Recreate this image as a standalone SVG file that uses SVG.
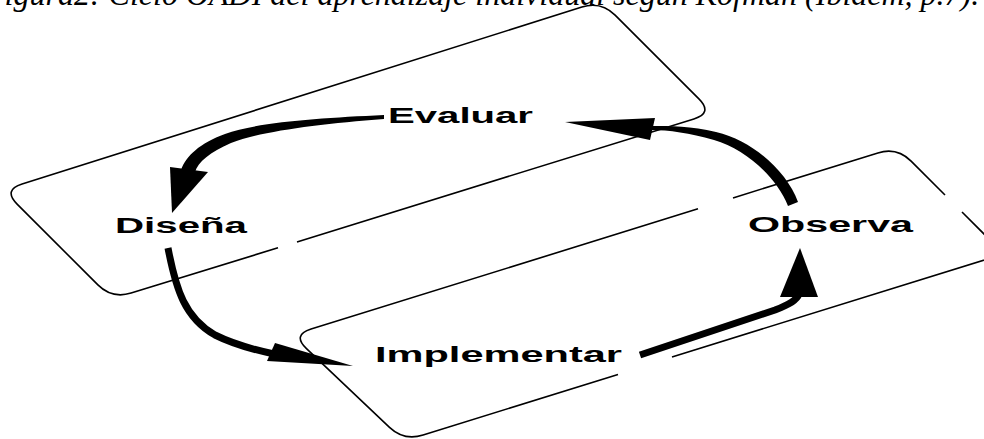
<svg xmlns="http://www.w3.org/2000/svg" width="984" height="439" viewBox="0 0 984 439">
  <style>
    .plane { fill: none; stroke: #000; stroke-width: 1.6; stroke-linecap: butt; }
    .lbl { font-family: "Liberation Sans", Arial, sans-serif; font-weight: bold; font-size: 22px; fill: #000; }
    .cap { font-family: "Liberation Serif", "Times New Roman", serif; font-style: italic; font-size: 32px; fill: #000; }
    .arr { fill: none; stroke: #000; stroke-width: 7; stroke-linecap: butt; }
    .body { fill: #000; stroke: none; }
    .head { fill: #000; stroke: none; }
  </style>
  <rect width="984" height="439" fill="#fff"/>
  <text class="cap" x="-15" y="5">Figura2: Ciclo OADI del aprendizaje individual según Kofman (Ibídem, p.7).</text>

  <g id="plane-top">
    <path class="plane" d="M278,247.8 L131.1,293.1 Q112,299 97.9,284.9 L17.1,204.1 Q3,190 22.1,184 L581.9,7 Q601,1 615.1,15.1 L698.9,98.9 Q713,113 693.9,118.9 L297,241.9"/>
  </g>
  <g id="plane-bottom">
    <path class="plane" d="M698,208.8 L311.1,329.1 Q292,335 306.5,348.7 L389.5,427.3 Q404,441 423.1,435 L618,374.5"/>
    <path class="plane" d="M733,197.9 L877.9,152.9 Q897,147 911.1,161.1 L945,195"/>
    <path class="plane" d="M962,212 L1004,254 L672,356.9"/>
  </g>

  <g id="connectors">
    <path class="body" d="M384,115 C320,118 258,122 225,134 C200,143 186,156 181,170 L195,172 C198,162 210,152 231,143 C262,131 320,124 384,119 Z"/>
    <polygon class="head" points="170,167 208,172 172,213"/>
    <path class="arr" d="M168,248 C176,290 185,318 215,335 C235,345 255,350 274,354"/>
    <polygon class="head" points="275,343 267,361 353,366"/>
    <path class="arr" d="M640,355 C690,338 740,322 775,310 C790,304 797,300 799,294"/>
    <polygon class="head" points="780,297 818,297 800,248"/>
    <path class="body" d="M798,202 C787,172 754,141 716,132 C691,126 671,126 650,126 L650,130 C670,130 689,133 714,140 C746,149 777,178 788,206 Z"/>
    <polygon class="head" points="565,122 655,118 650,140"/>
  </g>

  <g id="node-evaluar"><text class="lbl" x="388" y="123" textLength="145" lengthAdjust="spacingAndGlyphs">Evaluar</text></g>
  <g id="node-disena"><text class="lbl" x="115" y="233" textLength="132" lengthAdjust="spacingAndGlyphs">Diseña</text></g>
  <g id="node-observa"><text class="lbl" x="748" y="232" textLength="165" lengthAdjust="spacingAndGlyphs">Observa</text></g>
  <g id="node-implementar"><text class="lbl" x="375" y="362" textLength="247" lengthAdjust="spacingAndGlyphs">Implementar</text></g>
</svg>
